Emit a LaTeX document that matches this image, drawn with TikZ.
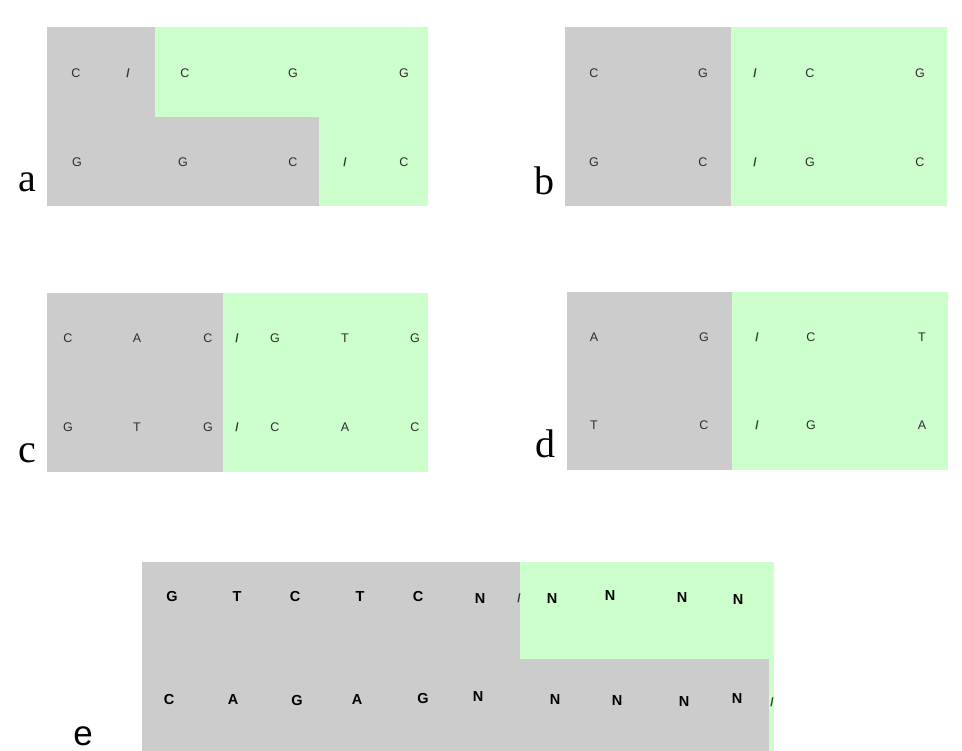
\documentclass[tikz,border=0pt]{standalone}
\usepackage{fontspec}
\setmainfont{Liberation Serif}
\newfontfamily\basefont{Liberation Sans}
\definecolor{boxgray}{RGB}{204,204,204}
\definecolor{boxgreen}{RGB}{204,255,204}
\definecolor{basecol}{RGB}{45,45,45}
\definecolor{slashcol}{RGB}{40,60,40}
\begin{document}
\begin{tikzpicture}[x=1pt,y=-1pt,
  base/.style={inner sep=0pt,font=\basefont\fontsize{12.5}{12.5}\selectfont,text=basecol},
  bbase/.style={inner sep=0pt,font=\basefont\bfseries\fontsize{14.5}{14.5}\selectfont,text=black},
  cut/.style={inner sep=0pt,font=\basefont\bfseries\fontsize{12}{12}\selectfont,text=slashcol},
  panellabel/.style={inner sep=0pt,anchor=base,font=\fontsize{40}{40}\selectfont},
  grayarea/.style={fill=boxgray,draw=none},
  greenarea/.style={fill=boxgreen,draw=none}]
\useasboundingbox (0,0) rectangle (962,751);
% ---------- panel a ----------
\fill[grayarea] (47,27) rectangle (428,206);
\fill[greenarea] (155,27) -- (428,27) -- (428,206) -- (319,206) -- (319,117) -- (155,117) -- cycle;
\node[base] (a1) at (76,73) {C};
\node[cut]  (a2) at (128,73) {/};
\node[base] (a3) at (185,73) {C};
\node[base] (a4) at (293,73) {G};
\node[base] (a5) at (404,73) {G};
\node[base] (a6) at (77,162) {G};
\node[base] (a7) at (183,162) {G};
\node[base] (a8) at (293,162) {C};
\node[cut]  (a9) at (345,162) {/};
\node[base] (a10) at (404,162) {C};
\node[panellabel] (la) at (27,192) {a};
% ---------- panel b ----------
\fill[grayarea] (565,27) rectangle (731,206);
\fill[greenarea] (731,27) rectangle (947,206);
\node[base] (b1) at (594,73) {C};
\node[base] (b2) at (703,73) {G};
\node[cut]  (b3) at (755,73) {/};
\node[base] (b4) at (810,73) {C};
\node[base] (b5) at (920,73) {G};
\node[base] (b6) at (594,162) {G};
\node[base] (b7) at (703,162) {C};
\node[cut]  (b8) at (755,162) {/};
\node[base] (b9) at (810,162) {G};
\node[base] (b10) at (920,162) {C};
\node[panellabel] (lb) at (544,195) {b};
% ---------- panel c ----------
\fill[grayarea] (47,293) rectangle (223,472);
\fill[greenarea] (223,293) rectangle (428,472);
\node[base] (c1) at (68,338) {C};
\node[base] (c2) at (137,338) {A};
\node[base] (c3) at (208,338) {C};
\node[cut]  (c4) at (237,338) {/};
\node[base] (c5) at (275,338) {G};
\node[base] (c6) at (345,338) {T};
\node[base] (c7) at (415,338) {G};
\node[base] (c8) at (68,427) {G};
\node[base] (c9) at (137,427) {T};
\node[base] (c10) at (208,427) {G};
\node[cut]  (c11) at (237,427) {/};
\node[base] (c12) at (275,427) {C};
\node[base] (c13) at (345,427) {A};
\node[base] (c14) at (415,427) {C};
\node[panellabel] (lc) at (27,462) {c};
% ---------- panel d ----------
\fill[grayarea] (567,292) rectangle (732,470);
\fill[greenarea] (732,292) rectangle (948,470);
\node[base] (d1) at (594,337) {A};
\node[base] (d2) at (704,337) {G};
\node[cut]  (d3) at (757,337) {/};
\node[base] (d4) at (811,337) {C};
\node[base] (d5) at (922,337) {T};
\node[base] (d6) at (594,425) {T};
\node[base] (d7) at (704,425) {C};
\node[cut]  (d8) at (757,425) {/};
\node[base] (d9) at (811,425) {G};
\node[base] (d10) at (922,425) {A};
\node[panellabel] (ld) at (545,457) {d};
% ---------- panel e ----------
\fill[grayarea] (142,562) rectangle (774,751);
\fill[greenarea] (520,562) rectangle (774,659);
\fill[greenarea] (769,659) rectangle (774,751);
\node[bbase] (e1) at (172,597) {G};
\node[bbase] (e2) at (237,597) {T};
\node[bbase] (e3) at (295,597) {C};
\node[bbase] (e4) at (360,597) {T};
\node[bbase] (e5) at (418,597) {C};
\node[bbase] (e6) at (480,599) {N};
\node[cut]  (e7) at (519,598) {/};
\node[bbase] (e8) at (552,599) {N};
\node[bbase] (e9) at (610,596) {N};
\node[bbase] (e10) at (682,598) {N};
\node[bbase] (e11) at (738,600) {N};
\node[bbase] (e12) at (169,700) {C};
\node[bbase] (e13) at (233,700) {A};
\node[bbase] (e14) at (297,701) {G};
\node[bbase] (e15) at (357,700) {A};
\node[bbase] (e16) at (423,699) {G};
\node[bbase] (e17) at (478,697) {N};
\node[bbase] (e18) at (555,700) {N};
\node[bbase] (e19) at (617,701) {N};
\node[bbase] (e20) at (684,702) {N};
\node[bbase] (e21) at (737,699) {N};
\node[cut]  (e22) at (772,702) {/};
\node[panellabel,font=\basefont\fontsize{35}{35}\selectfont] (le) at (83,745) {e};
\end{tikzpicture}
\end{document}
